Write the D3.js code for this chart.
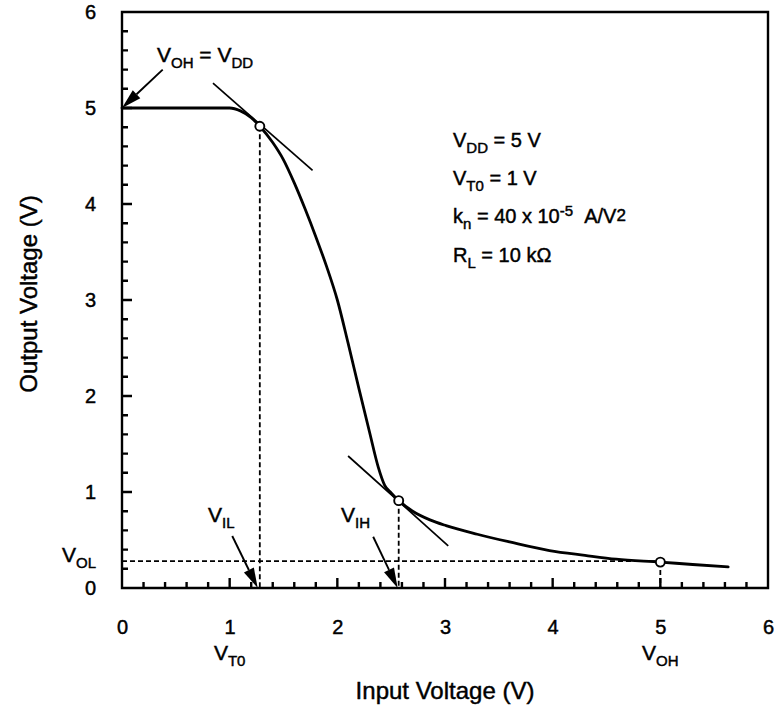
<!DOCTYPE html>
<html>
<head>
<meta charset="utf-8">
<script src="https://cdn.jsdelivr.net/npm/d3@7"></script>
<style>
  html, body { margin: 0; padding: 0; background: #fff; }
  text { font-family: "Liberation Sans", Arial, Helvetica, sans-serif; fill: #000; stroke: #000; stroke-width: 0.45px; }
</style>
</head>
<body>
<svg id="chart" width="775" height="707"></svg>
<script>
// ---- data ----
const vin  = [0, 0.5, 1.0, 1.1, 1.2, 1.28, 1.40, 1.50, 1.60, 1.70, 1.80, 1.90, 2.00, 2.10, 2.20, 2.30, 2.38, 2.44, 2.50, 2.57, 2.70, 2.86, 3.01, 3.30, 3.60, 3.97, 4.30, 4.59, 5.00, 5.30, 5.63];
const vout = [5, 5, 5.0, 4.97, 4.9, 4.81, 4.64, 4.46, 4.22, 3.95, 3.66, 3.35, 3.00, 2.55, 2.08, 1.62, 1.26, 1.07, 0.99, 0.91, 0.80, 0.71, 0.65, 0.56, 0.48, 0.39, 0.34, 0.30, 0.27, 0.245, 0.22];

const tangentVIL_x = [0.845, 1.77];
const tangentVIL_y = [5.26, 4.35];
const tangentVIH_x = [2.10, 3.03];
const tangentVIH_y = [1.375, 0.44];

const criticalX = [1.28, 2.57, 5.0];   // VIL, VIH, VOH(input) points
const criticalY = [4.81, 0.91, 0.27];
const volLevel = 0.28;

const xTickValues = [0, 1, 2, 3, 4, 5, 6];
const xTickLabels = ["0", "1", "2", "3", "4", "5", "6"];
const yTickValues = [0, 1, 2, 3, 4, 5, 6];
const yTickLabels = ["0", "1", "2", "3", "4", "5", "6"];
const minorStep = 0.2;

const xTitle = "Input Voltage (V)";
const yTitle = "Output Voltage (V)";

// arrows: from (x,y) to tip (x,y) in data units
const arrowFromX = [0.378, 1.024, 2.333];
const arrowFromY = [5.40, 0.542, 0.534];
const arrowToX   = [0.0, 1.26, 2.56];
const arrowToY   = [5.0, 0.0, 0.0];

// parameter block lines: main letter, subscript, rest
const paramMain = ["V", "V", "k", "R"];
const paramSub  = ["DD", "T0", "n", "L"];
const paramRest = [" = 5 V", " = 1 V", " = 40 x 10", " = 10 kΩ"];

// ---- drawing ----
const svg = d3.select("#chart");
const mLeft = 122, mRight = 768, mTop = 12, mBottom = 588;
const xs = d3.scaleLinear().domain([0, 6]).range([mLeft, mRight]);
const ys = d3.scaleLinear().domain([0, 6]).range([mBottom, mTop]);

const allTicks = d3.range(0, 31, 1).map(i => +(i * minorStep).toFixed(2));
const isMajor = v => Math.abs(v - Math.round(v)) < 1e-6;

// frame + inside ticks as one path, built from the scales
let frameD = `M${xs(0)},${ys(6)}H${xs(6)}V${ys(0)}H${xs(0)}Z`;
allTicks.forEach(v => {
  const len = isMajor(v) ? 10 : 6;
  frameD += `M${xs(v)},${mBottom}V${mBottom - len}`;
  frameD += `M${mLeft},${ys(v)}H${mLeft + len}`;
});
svg.append("path").attr("d", frameD)
  .attr("fill", "none").attr("stroke", "#000").attr("stroke-width", 2.4);

// tick labels via axes (lines hidden)
const gx = svg.append("g").attr("transform", `translate(0,${mBottom})`)
  .call(d3.axisBottom(xs).tickValues(xTickValues).tickSize(0).tickPadding(32)
    .tickFormat((d, i) => xTickLabels[i]));
const gy = svg.append("g").attr("transform", `translate(${mLeft},0)`)
  .call(d3.axisLeft(ys).tickValues(yTickValues).tickSize(0).tickPadding(26)
    .tickFormat((d, i) => yTickLabels[i]));
[gx, gy].forEach(g => {
  g.attr("font-family", null).attr("font-size", null);
  g.select(".domain").remove();
  g.selectAll(".tick line").remove();
  g.selectAll("text").style("font-size", "20px").attr("fill", "#000");
});
gx.selectAll("text").attr("dy", null).attr("y", 46);

// dashed guide lines
const guides = svg.append("g").attr("stroke", "#000").attr("stroke-width", 1.8)
  .attr("stroke-dasharray", "5,3").attr("fill", "none");
guides.append("line").attr("x1", xs(0)).attr("x2", xs(criticalX[2])).attr("y1", ys(volLevel)).attr("y2", ys(volLevel));
criticalX.forEach((cx, i) => {
  guides.append("line").attr("x1", xs(cx)).attr("x2", xs(cx)).attr("y1", ys(criticalY[i])).attr("y2", ys(0));
});

// tangent lines
const lineGen = d3.line().x(d => xs(d[0])).y(d => ys(d[1]));
[[tangentVIL_x, tangentVIL_y], [tangentVIH_x, tangentVIH_y]].forEach(([tx, ty]) => {
  svg.append("path").attr("d", lineGen(tx.map((v, i) => [v, ty[i]])))
    .attr("stroke", "#000").attr("stroke-width", 1.7).attr("fill", "none");
});

// VTC curve
const curve = d3.line().x(d => xs(d[0])).y(d => ys(d[1])).curve(d3.curveMonotoneX);
svg.append("path").attr("d", curve(vin.map((v, i) => [v, vout[i]])))
  .attr("stroke", "#000").attr("stroke-width", 2.8).attr("fill", "none")
  .attr("stroke-linejoin", "round").attr("stroke-linecap", "round");

// critical points
svg.selectAll("circle.crit").data(criticalX).enter().append("circle")
  .attr("class", "crit")
  .attr("cx", d => xs(d)).attr("cy", (d, i) => ys(criticalY[i])).attr("r", 4.5)
  .attr("fill", "#fff").attr("stroke", "#000").attr("stroke-width", 1.9);

// arrows
arrowFromX.forEach((fx, i) => {
  const x1 = xs(fx), y1 = ys(arrowFromY[i]), x2 = xs(arrowToX[i]), y2 = ys(arrowToY[i]);
  const ang = Math.atan2(y2 - y1, x2 - x1);
  const L = 20, W = 5.5;
  const bx = x2 - L * Math.cos(ang), by = y2 - L * Math.sin(ang);
  svg.append("line").attr("x1", x1).attr("y1", y1).attr("x2", bx).attr("y2", by)
    .attr("stroke", "#000").attr("stroke-width", 1.9);
  const px = -Math.sin(ang), py = Math.cos(ang);
  svg.append("path")
    .attr("d", `M${x2},${y2}L${bx + W * px},${by + W * py}L${bx - W * px},${by - W * py}Z`)
    .attr("fill", "#000");
});

// helper for V with subscript labels
function subLabel(tx, ty, parts, anchor) {
  const t = svg.append("text").attr("x", tx).attr("y", ty).style("font-size", "21px")
    .attr("text-anchor", anchor || "start");
  let shifted = false;
  parts.forEach(p => {
    const s = t.append("tspan").text(p.t);
    if (p.sub) { s.style("font-size", "15px"); if (!shifted) { s.attr("dy", 6); shifted = true; } }
    else if (shifted) { s.attr("dy", -6); shifted = false; }
  });
  return t;
}

subLabel(157, 62, [{t: "V"}, {t: "OH", sub: true}, {t: " = V"}, {t: "DD", sub: true}]);
subLabel(208, 522, [{t: "V"}, {t: "IL", sub: true}]);
subLabel(341, 522, [{t: "V"}, {t: "IH", sub: true}]);
subLabel(62, 562, [{t: "V"}, {t: "OL", sub: true}]);
subLabel(xs(1), 660, [{t: "V"}, {t: "T0", sub: true}], "middle");
subLabel(xs(5), 660, [{t: "V"}, {t: "OH", sub: true}], "middle");

// parameter block
const paramY = [147, 185, 223, 262];
paramMain.forEach((m, i) => {
  const t = svg.append("text").attr("x", 453).attr("y", paramY[i]).style("font-size", "20px");
  t.append("tspan").text(m);
  t.append("tspan").text(paramSub[i]).style("font-size", "15px").attr("dy", 6);
  t.append("tspan").text(paramRest[i]).attr("dy", -6);
  if (i === 2) {
    t.append("tspan").text("-5").style("font-size", "15px").attr("dy", -7);
    t.append("tspan").text("\u00a0\u00a0A/V").attr("dy", 7);
    t.append("tspan").text("2").style("font-size", "17px").attr("dy", -2);
  }
});

// axis titles
svg.append("text").attr("x", (mLeft + mRight) / 2).attr("y", 699)
  .attr("text-anchor", "middle").style("font-size", "24px").text(xTitle);
svg.append("text").attr("transform", "translate(37,294) rotate(-90)")
  .attr("text-anchor", "middle").style("font-size", "24px").text(yTitle);
</script>
</body>
</html>
